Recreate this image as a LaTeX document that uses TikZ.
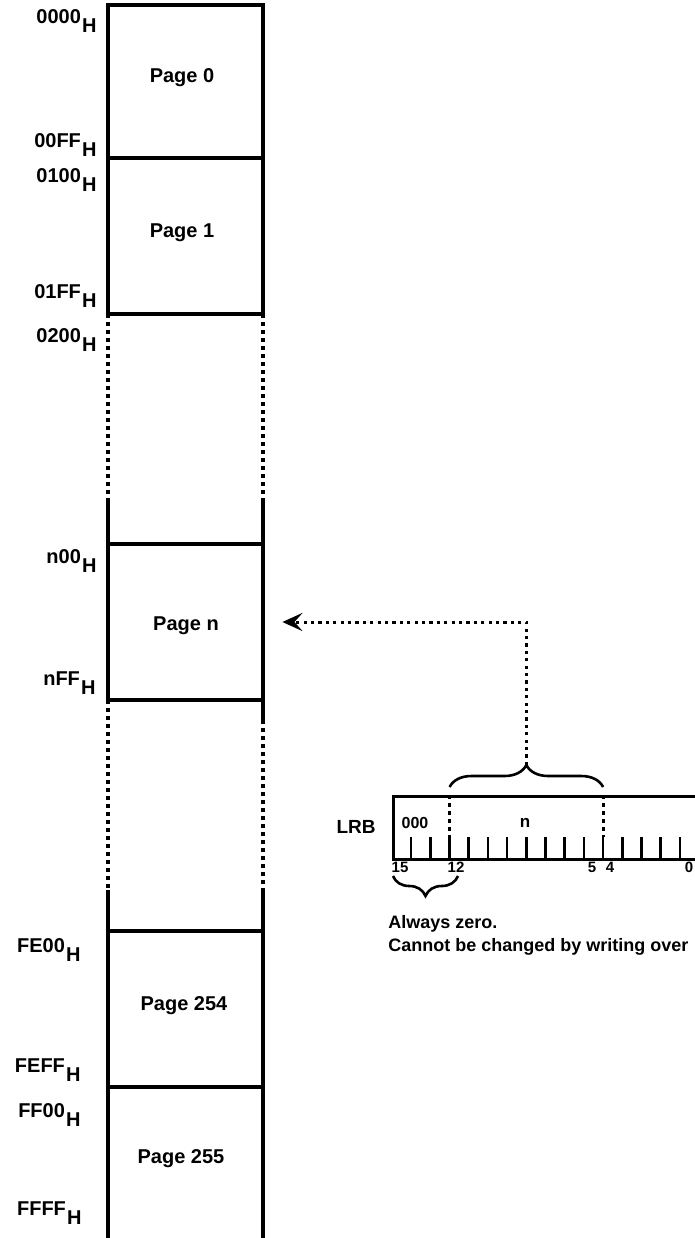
\documentclass[tikz,border=0pt]{standalone}
\usepackage{fontspec}
\setmainfont{Liberation Sans}
\usetikzlibrary{arrows.meta,decorations.pathreplacing}
\newcommand\hx[1]{#1\kern0.6pt\raisebox{-4.5pt}{H}}
\begin{document}
\begin{tikzpicture}[x=0.5pt,y=-0.5pt,
  solidln/.style={line width=1.6pt},
  dotln/.style={line width=1.7pt,dash pattern=on 1.8pt off 2.2pt},
  addr/.style={font=\fontsize{10}{12}\selectfont\bfseries,anchor=base east,inner sep=0pt},
  pagelbl/.style={font=\fontsize{10}{12}\selectfont\bfseries,anchor=base,inner sep=0pt},
  bitlbl/.style={font=\fontsize{7.5}{9}\selectfont\bfseries,anchor=base,inner sep=0pt},
  tickln/.style={line width=1.3pt},
  bracel/.style={line width=1.3pt,decorate,decoration={brace,amplitude=#1}},
  dotarr/.style={line width=1.5pt,dash pattern=on 1.6pt off 2.1pt,-{Stealth[length=10pt,width=9pt,inset=4pt]}},
  note/.style={font=\fontsize{9}{11}\selectfont\bfseries,anchor=base west,inner sep=0pt}
]
\useasboundingbox (0,0) rectangle (695,1238);

% memory column
\draw[solidln] (108,314) -- (108,5) -- (263,5) -- (263,314);
\draw[solidln] (108,158) -- (263,158);
\draw[solidln] (108,314) -- (263,314);
\draw[dotln] (108,314) -- (108,500);
\draw[dotln] (263,314) -- (263,500);
\draw[solidln] (108,500) -- (108,700);
\draw[solidln] (263,500) -- (263,720);
\draw[solidln] (108,544) -- (263,544);
\draw[solidln] (108,700) -- (263,700);
\draw[dotln] (108,700) -- (108,890);
\draw[dotln] (263,720) -- (263,890);
\draw[solidln] (108,890) -- (108,1238);
\draw[solidln] (263,890) -- (263,1238);
\draw[solidln] (108,931) -- (263,931);
\draw[solidln] (108,1087) -- (263,1087);

\node[inner sep=0pt,minimum width=77.5pt,minimum height=78pt] (pnbox) at (185.5,622) {};

% page labels
\node[pagelbl] (p0) at (182,82) {Page 0};
\node[pagelbl] (p1) at (182,237) {Page 1};
\node[pagelbl] (pn) at (186,630) {Page n};
\node[pagelbl] (p254) at (184,1010) {Page 254};
\node[pagelbl] (p255) at (181,1163) {Page 255};

% addresses
\node[addr] (a0) at (97,23) {\hx{0000}};
\node[addr] (a1) at (97,147) {\hx{00FF}};
\node[addr] (a2) at (97,182) {\hx{0100}};
\node[addr] (a3) at (97,298) {\hx{01FF}};
\node[addr] (a4) at (97,342) {\hx{0200}};
\node[addr] (a5) at (97,563) {\hx{n00}};
\node[addr] (a6) at (96,685) {\hx{nFF}};
\node[addr] (a7) at (81,952) {\hx{FE00}};
\node[addr] (a8) at (81,1072) {\hx{FEFF}};
\node[addr] (a9) at (81,1117) {\hx{FF00}};
\node[addr] (a10) at (82,1215) {\hx{FFFF}};

% register
\node[draw,line width=1.5pt,minimum width=153.5pt,minimum height=31.5pt,inner sep=0pt,anchor=north west] (lrb) at (392,795) {};
\foreach \k in {1,...,15} \draw[tickln] ({392+\k*19.19},858) -- ({392+\k*19.19},837);
\draw[dotln,line width=1.4pt] (449.6,795) -- (449.6,837);
\draw[dotln,line width=1.4pt] (603.1,795) -- (603.1,837);
\node[anchor=base east,inner sep=0pt,font=\fontsize{9.5}{11}\selectfont\bfseries] (lrbl) at (376,833) {LRB};
\node[anchor=base,inner sep=0pt,font=\fontsize{8}{9}\selectfont\bfseries] (zz) at (415,828) {000};
\node[anchor=base,inner sep=0pt,font=\fontsize{8.5}{10}\selectfont\bfseries] (nn) at (525,827) {n};
\node[bitlbl] (b15) at (400,872) {15};
\node[bitlbl] (b12) at (456,872) {12};
\node[bitlbl] (b5) at (592,872) {5};
\node[bitlbl] (b4) at (610,872) {4};
\node[bitlbl] (b0) at (689,872) {0};

% braces
\draw[bracel=11pt] (449.6,787) -- (603.1,787);
\coordinate (bt) at (526.4,765);
\draw[bracel=10pt] (458,876) -- (393,876);

\node[note] (n1) at (388,928) {Always zero.};
\node[note] (n2) at (388,951) {Cannot be changed by writing over};

% arrow
\draw[dotarr] (bt) |- ([xshift=9.5pt]pnbox.east);
\end{tikzpicture}
\end{document}
